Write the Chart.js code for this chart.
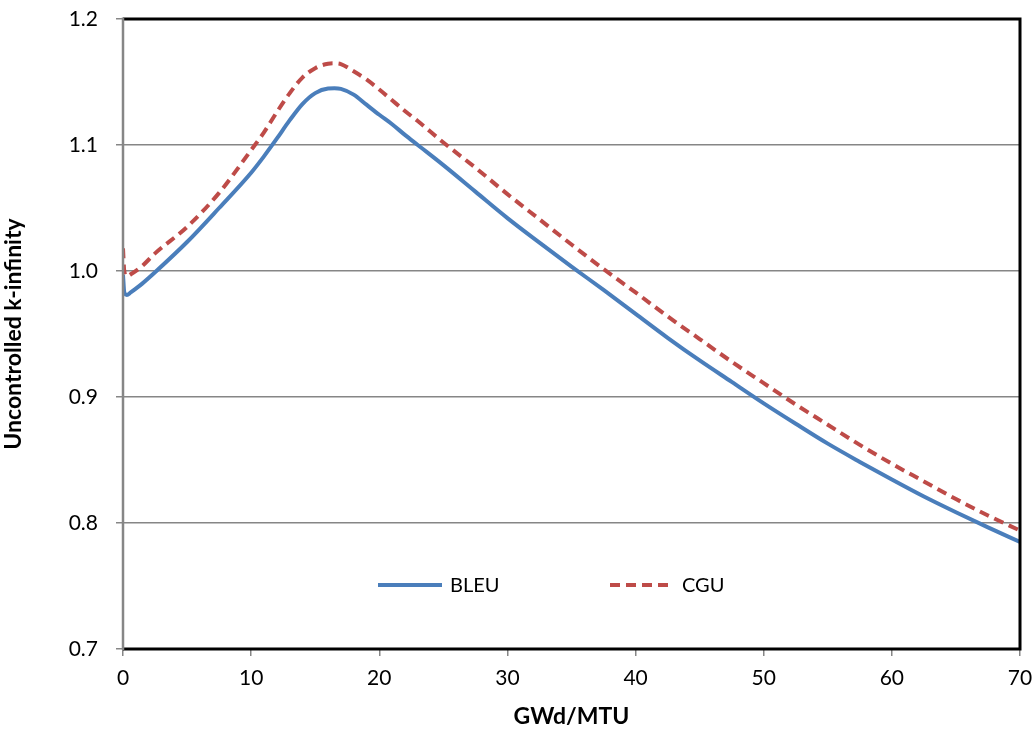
<!DOCTYPE html>
<html>
<head>
<meta charset="utf-8">
<script src="https://cdn.jsdelivr.net/npm/chart.js@4.4.0/dist/chart.umd.min.js"></script>
<style>
  html, body { margin: 0; padding: 0; background: #fff; }
  #wrap { width: 1036px; height: 730px; }
</style>
</head>
<body>
<div id="wrap"><canvas id="myChart"></canvas></div>
<script>
// burnup (GWd/MTU) and k-infinity
const bleuX = [0, 0.1, 0.3, 0.6, 1, 1.5, 2.5, 5, 7.5, 10, 11, 12, 13, 14, 15, 16, 16.5, 17, 18, 19, 20, 21, 22, 23, 25, 27.5, 30, 32.5, 35, 37.5, 40, 42.5, 45, 47.5, 50, 52.5, 55, 57.5, 60, 62.5, 65, 67.5, 70];
const bleuY = [0.997, 0.983, 0.981, 0.983, 0.986, 0.990, 0.999, 1.023, 1.050, 1.078, 1.091, 1.105, 1.1195, 1.1325, 1.1412, 1.1448, 1.145, 1.1445, 1.140, 1.132, 1.124, 1.1165, 1.108, 1.100, 1.084, 1.063, 1.042, 1.0225, 1.0035, 0.985, 0.966, 0.947, 0.929, 0.912, 0.895, 0.8788, 0.863, 0.8485, 0.8345, 0.821, 0.8085, 0.7965, 0.785];
const cguX = [0, 0.1, 0.3, 0.7, 1.5, 2.5, 5, 7.5, 10, 11, 12, 13, 14, 15, 16, 16.5, 17, 18, 19, 20, 21, 22, 23, 25, 27.5, 30, 32.5, 35, 37.5, 40, 42.5, 45, 47.5, 50, 52.5, 55, 57.5, 60, 62.5, 65, 67.5, 70];
const cguY = [1.018, 1.0, 0.996, 0.998, 1.004, 1.014, 1.035, 1.062, 1.096, 1.110, 1.126, 1.141, 1.1535, 1.161, 1.1645, 1.1648, 1.1642, 1.1585, 1.152, 1.144, 1.1355, 1.127, 1.119, 1.102, 1.082, 1.061, 1.041, 1.021, 1.0015, 0.983, 0.964, 0.946, 0.928, 0.911, 0.894, 0.878, 0.862, 0.847, 0.833, 0.819, 0.806, 0.794];
const xTicks = [0, 10, 20, 30, 40, 50, 60, 70];
const yTicks = [0.7, 0.8, 0.9, 1.0, 1.1, 1.2];

const FONT = "Lato";

function pts(xs, ys) {
    return xs.map((x, i) => ({ x: x, y: ys[i] }));
}

// black plot frame (Excel style), axis lines stay grey
const framePlugin = {
    id: "frame",
    afterDatasetsDraw(chart) {
        const a = chart.chartArea;
        const ctx = chart.ctx;
        ctx.save();
        ctx.strokeStyle = "#000";
        ctx.lineWidth = 3;
        ctx.beginPath();
        ctx.moveTo(a.left, a.top);
        ctx.lineTo(a.right, a.top);
        ctx.lineTo(a.right, a.bottom);
        ctx.lineTo(a.left, a.bottom);
        ctx.stroke();
        ctx.strokeStyle = "#868686";
        ctx.lineWidth = 2.5;
        ctx.beginPath();
        ctx.moveTo(a.left, a.top - 1.5);
        ctx.lineTo(a.left, a.bottom + 1);
        ctx.stroke();
        ctx.restore();
    }
};

// legend sits inside the plot, like the original
const inLegend = {
    id: "inLegend",
    afterDraw(chart) {
        const ctx = chart.ctx;
        const xs = [378, 610];
        const y = 585;
        ctx.save();
        ctx.font = "20px " + FONT;
        ctx.textBaseline = "middle";
        chart.data.datasets.forEach((ds, i) => {
            ctx.strokeStyle = ds.borderColor;
            ctx.lineWidth = ds.borderWidth;
            ctx.setLineDash(ds.borderDash || []);
            ctx.beginPath();
            ctx.moveTo(xs[i], y);
            ctx.lineTo(xs[i] + 64, y);
            ctx.stroke();
            ctx.setLineDash([]);
            ctx.fillStyle = "#000";
            ctx.fillText(ds.label, xs[i] + 72, y + 1);
        });
        ctx.restore();
    }
};

new Chart("myChart", {
    type: "line",
    data: {
        datasets: [{
            label: "BLEU",
            data: pts(bleuX, bleuY),
            borderColor: "#4a7ebb",
            borderWidth: 4,
            pointRadius: 0,
            cubicInterpolationMode: "monotone",
            fill: false
        }, {
            label: "CGU",
            data: pts(cguX, cguY),
            borderColor: "#be4b48",
            borderWidth: 4,
            borderDash: [10, 6],
            pointRadius: 0,
            cubicInterpolationMode: "monotone",
            fill: false
        }]
    },
    options: {
        responsive: true,
        maintainAspectRatio: false,
        animation: false,
        layout: { padding: { left: 0, right: 16, top: 19, bottom: 0 } },
        plugins: {
            legend: { display: false },
            tooltip: { enabled: false }
        },
        scales: {
            x: {
                type: "linear",
                min: 0,
                max: 70,
                afterBuildTicks(scale) {
                    scale.ticks = xTicks.map(v => ({ value: v }));
                },
                afterFit(scale) {
                    scale.height = 81;
                    scale.paddingLeft = 0;
                    scale.paddingRight = 0;
                },
                grid: {
                    drawOnChartArea: false,
                    color: "#868686",
                    lineWidth: 1.5,
                    tickLength: 7
                },
                border: { color: "#868686", width: 2 },
                ticks: {
                    color: "#000",
                    font: { family: FONT, size: 21 },
                    padding: 10,
                    maxRotation: 0
                },
                title: {
                    display: true,
                    text: "GWd/MTU",
                    color: "#000",
                    font: { family: FONT, size: 23, weight: "bold" },
                    padding: { top: 3, bottom: 0 }
                }
            },
            y: {
                min: 0.7,
                max: 1.2,
                afterBuildTicks(scale) {
                    scale.ticks = yTicks.map(v => ({ value: v }));
                },
                afterFit(scale) {
                    scale.width = 123;
                    scale.paddingTop = 0;
                    scale.paddingBottom = 0;
                },
                grid: {
                    color: "#868686",
                    lineWidth: 1.5,
                    tickLength: 7
                },
                border: { color: "#868686", width: 2 },
                ticks: {
                    color: "#000",
                    font: { family: FONT, size: 21 },
                    padding: 18,
                    callback: v => v.toFixed(1)
                },
                title: {
                    display: true,
                    text: "Uncontrolled k-infinity",
                    color: "#000",
                    font: { family: FONT, size: 23, weight: "bold" },
                    padding: { top: 0, bottom: 6 }
                }
            }
        }
    },
    plugins: [framePlugin, inLegend]
});
</script>
</body>
</html>
